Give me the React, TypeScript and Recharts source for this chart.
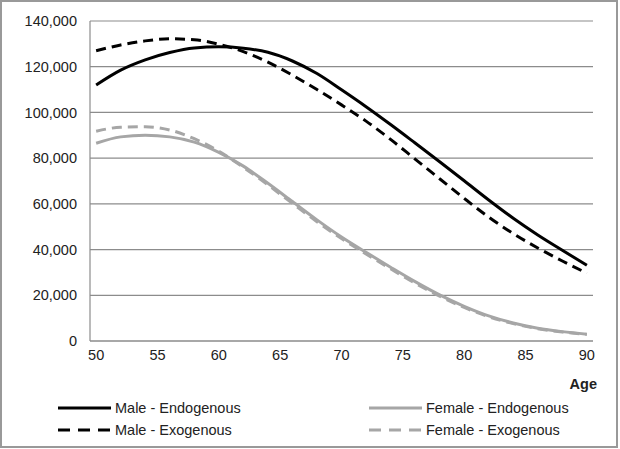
import { LineChart, Line, XAxis, YAxis, CartesianGrid, Legend } from 'recharts';

// ages sampled every two years
const ages = [50, 52, 54, 56, 58, 60, 62, 64, 66, 68, 70, 72, 74, 76, 78, 80, 82, 84, 86, 88, 90];

const maleEndogenous = [
  112000, 118500, 123000, 126200, 128200, 128700, 128100, 126300, 122500, 117000, 109900,
  102500, 94700, 86600, 78400, 70100, 61700, 53700, 46400, 39700, 33100,
];
const maleExogenous = [
  127000, 129500, 131300, 132200, 131800, 129800, 126600, 122000, 116300, 110000, 103300,
  96200, 88200, 79600, 71000, 62400, 54200, 47000, 40700, 35000, 29700,
];
const femaleEndogenous = [
  86500, 89300, 90000, 89300, 87000, 82500, 76500, 69000, 61000, 53000, 45500,
  38800, 32300, 26000, 20200, 15200, 11000, 7900, 5600, 4100, 3000,
];
const femaleExogenous = [
  91800, 93500, 93700, 92300, 88500, 83000, 76000, 68300, 60200, 52200, 44800,
  38100, 31600, 25300, 19600, 14700, 10600, 7600, 5400, 3900, 2900,
];

const xTicks = [50, 55, 60, 65, 70, 75, 80, 85, 90];
const yTicks = [0, 20000, 40000, 60000, 80000, 100000, 120000, 140000];

const data = ages.map((age, i) => ({
  age,
  maleEndo: maleEndogenous[i],
  maleExo: maleExogenous[i],
  femaleEndo: femaleEndogenous[i],
  femaleExo: femaleExogenous[i],
}));

const BLACK = '#000000';
const GREY = '#a6a6a6';
const GRID = '#8c8c8c';
const TEXT = '#222222';
const FONT = '"Liberation Sans", Arial, sans-serif';

const series = [
  { key: 'maleEndo', name: 'Male - Endogenous', color: BLACK, dash: undefined, col: 0, row: 0 },
  { key: 'maleExo', name: 'Male - Exogenous', color: BLACK, dash: '10 6', col: 0, row: 1 },
  { key: 'femaleEndo', name: 'Female - Endogenous', color: GREY, dash: undefined, col: 1, row: 0 },
  { key: 'femaleExo', name: 'Female - Exogenous', color: GREY, dash: '10 6', col: 1, row: 1 },
];

const renderLegend = () => (
  <div style={{ position: 'relative', width: 593, height: 56 }}>
    {series.map((s) => (
      <div
        key={s.key}
        style={{
          position: 'absolute',
          left: s.col === 0 ? 58 : 369,
          top: s.row === 0 ? 13 : 35,
          height: 20,
          display: 'flex',
          alignItems: 'center',
          fontFamily: FONT,
          fontSize: 14.5,
          color: TEXT,
          whiteSpace: 'nowrap',
        }}
      >
        <svg width={53} height={6} style={{ marginRight: 4 }}>
          <line
            x1={0}
            y1={3}
            x2={53}
            y2={3}
            stroke={s.color}
            strokeWidth={3}
            strokeDasharray={s.dash ? '12 8' : undefined}
          />
        </svg>
        <span>{s.name}</span>
      </div>
    ))}
  </div>
);

export default function App() {
  return (
    <div
      style={{
        position: 'absolute',
        left: 0,
        top: 0,
        width: 620,
        height: 449,
        background: '#fff',
        fontFamily: FONT,
      }}
    >
      <div
        style={{
          position: 'absolute',
          left: 0,
          top: 0,
          width: 618,
          height: 448,
          boxSizing: 'border-box',
          border: '2px solid #999',
        }}
      />
      <LineChart
        width={620}
        height={449}
        data={data}
        margin={{ top: 21, right: 27, bottom: 8, left: 0 }}
      >
        <CartesianGrid vertical={false} stroke={GRID} strokeWidth={1.2} />
        <XAxis
          dataKey="age"
          type="number"
          domain={[49.5, 90.5]}
          ticks={xTicks}
          height={44}
          tickSize={0}
          tickMargin={9}
          axisLine={{ stroke: GRID, strokeWidth: 1.2 }}
          tickLine={false}
          tick={{ fill: TEXT, fontSize: 14.5, fontFamily: FONT }}
          label={{
            value: 'Age',
            position: 'insideBottomRight',
            offset: -4,
            fill: TEXT,
            fontSize: 14.5,
            fontWeight: 'bold',
            fontFamily: FONT,
          }}
        />
        <YAxis
          domain={[0, 140000]}
          ticks={yTicks}
          width={90}
          tickSize={0}
          tickMargin={13}
          axisLine={{ stroke: GRID, strokeWidth: 1.2 }}
          tickLine={false}
          tick={{ fill: TEXT, fontSize: 14.5, fontFamily: FONT }}
          tickFormatter={(v: number) => v.toLocaleString('en-US')}
        />
        <Legend verticalAlign="bottom" content={renderLegend} />
        {series.map((s) => (
          <Line
            key={s.key}
            type="monotone"
            dataKey={s.key}
            name={s.name}
            stroke={s.color}
            strokeWidth={3}
            strokeDasharray={s.dash}
            dot={false}
            activeDot={false}
            isAnimationActive={false}
          />
        ))}
      </LineChart>
    </div>
  );
}
